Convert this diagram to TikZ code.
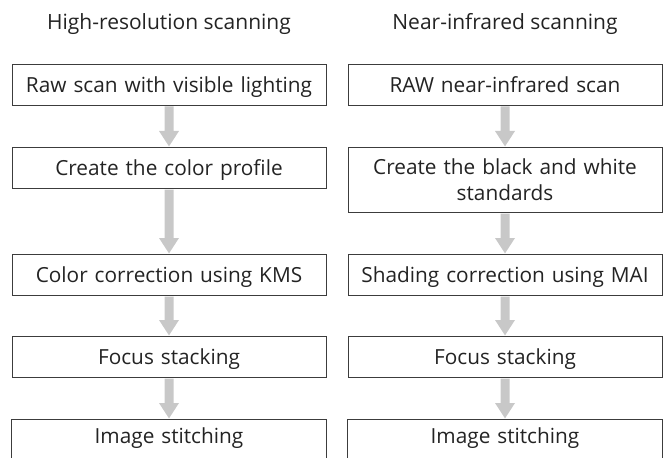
\documentclass[tikz,border=0pt]{standalone}
\usepackage{fontspec}
\setmainfont{Open Sans}
\usetikzlibrary{calc}
\definecolor{arrowgray}{RGB}{200,200,200}
\definecolor{boxline}{RGB}{60,60,60}
\definecolor{txtcol}{RGB}{35,35,35}
\newcommand\flowarrow[2]{%
  \fill[arrowgray] ($(#1.south)+(-4.5,0.6)$) -- ($(#2.north)+(-4.5,-16)$) -- ($(#2.north)+(-10,-16)$) --
    ($(#2.north)+(0,-0.6)$) -- ($(#2.north)+(10,-16)$) -- ($(#2.north)+(4.5,-16)$) -- ($(#1.south)+(4.5,0.6)$) -- cycle;}
\tikzset{
  basebox/.style={minimum width=314pt, inner sep=0pt, text width=306pt,
    align=center, anchor=north, text=txtcol, font=\fontsize{20.8}{26}\selectfont},
  oneline/.style={text height=17pt, text depth=2pt},
  stepbox/.style={basebox, oneline, draw=boxline, line width=0.9pt, minimum height=41pt},
  twolinebox/.style={basebox, draw=boxline, line width=0.9pt, minimum height=65pt},
  openbox/.style={basebox, oneline, minimum height=34pt},
  opensides/.style={draw=boxline, line width=0.9pt},
  titletext/.style={text=txtcol, oneline, font=\fontsize{21}{25}\selectfont}
}
\begin{document}
\begin{tikzpicture}[x=1pt, y=-1pt]
\useasboundingbox (0,0) rectangle (668,457);
% titles
\node[titletext] (tl) at (169,22) {High-resolution scanning};
\node[titletext] (tr) at (505,22) {Near-infrared scanning};
% left column
\node[stepbox] (l1) at (169,64) {Raw scan with visible lighting};
\node[stepbox] (l2) at (169,147) {Create the color profile};
\node[stepbox] (l3) at (169,254) {Color correction using KMS};
\node[stepbox] (l4) at (169,336) {Focus stacking};
\node[openbox] (l5) at (169,419) {Image stitching};
\draw[opensides] ([yshift=-8pt]l5.south west) -- (l5.north west) -- (l5.north east) -- ([yshift=-8pt]l5.south east);
% right column
\node[stepbox] (r1) at (505,64) {RAW near-infrared scan};
\node[twolinebox] (r2) at (505,147) {Create the black and white\\standards};
\node[stepbox] (r3) at (505,254) {Shading correction using MAI};
\node[stepbox] (r4) at (505,336) {Focus stacking};
\node[openbox] (r5) at (505,419) {Image stitching};
\draw[opensides] ([yshift=-8pt]r5.south west) -- (r5.north west) -- (r5.north east) -- ([yshift=-8pt]r5.south east);
% arrows
\flowarrow{l1}{l2}
\flowarrow{l2}{l3}
\flowarrow{l3}{l4}
\flowarrow{l4}{l5}
\flowarrow{r1}{r2}
\flowarrow{r2}{r3}
\flowarrow{r3}{r4}
\flowarrow{r4}{r5}
\end{tikzpicture}
\end{document}
